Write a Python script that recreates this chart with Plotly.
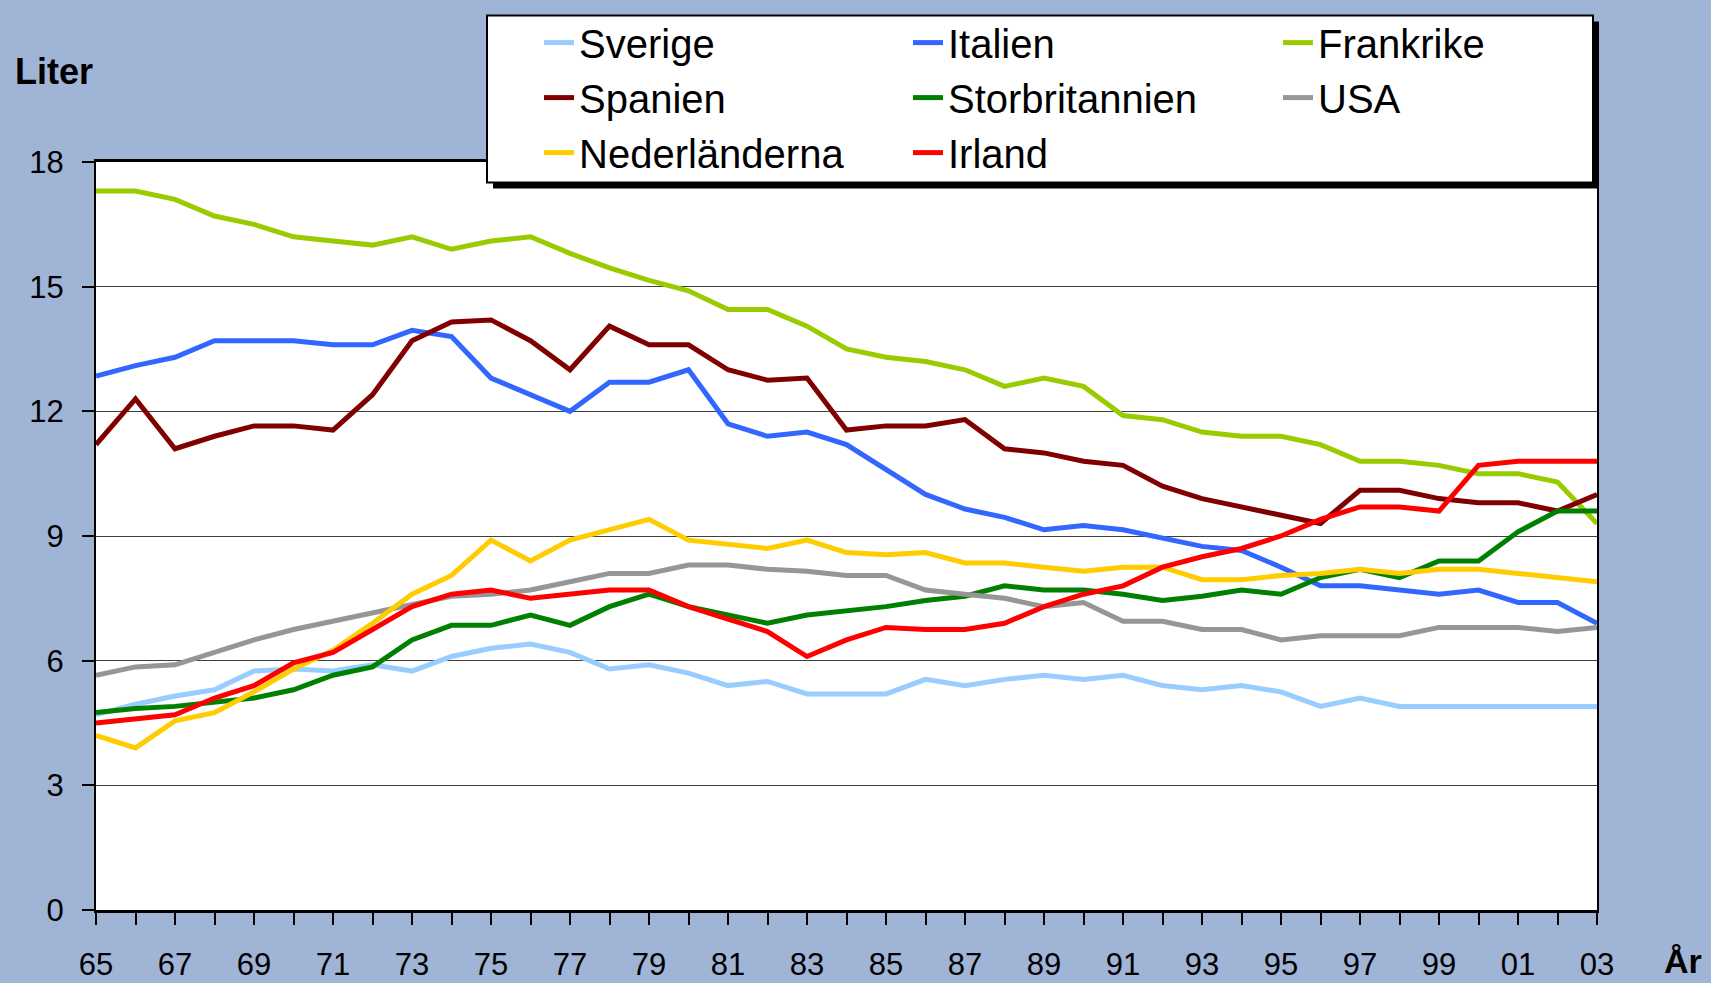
import plotly.graph_objects as go

# years 1965 - 2003, liters per person
years = list(range(1965, 2004))

sverige = [4.7, 4.95, 5.15, 5.3, 5.75, 5.8, 5.75, 5.9, 5.75, 6.1,
           6.3, 6.4, 6.2, 5.8, 5.9, 5.7, 5.4, 5.5, 5.2, 5.2,
           5.2, 5.55, 5.4, 5.55, 5.65, 5.55, 5.65, 5.4, 5.3, 5.4,
           5.25, 4.9, 5.1, 4.9, 4.9, 4.9, 4.9, 4.9, 4.9]
italien = [12.85, 13.1, 13.3, 13.7, 13.7, 13.7, 13.6, 13.6, 13.95, 13.8,
           12.8, 12.4, 12.0, 12.7, 12.7, 13.0, 11.7, 11.4, 11.5, 11.2,
           10.6, 10.0, 9.65, 9.45, 9.15, 9.25, 9.15, 8.95, 8.75, 8.65,
           8.25, 7.8, 7.8, 7.7, 7.6, 7.7, 7.4, 7.4, 6.9]
frankrike = [17.3, 17.3, 17.1, 16.7, 16.5, 16.2, 16.1, 16.0, 16.2, 15.9,
             16.1, 16.2, 15.8, 15.45, 15.15, 14.9, 14.45, 14.45, 14.05, 13.5,
             13.3, 13.2, 13.0, 12.6, 12.8, 12.6, 11.9, 11.8, 11.5, 11.4,
             11.4, 11.2, 10.8, 10.8, 10.7, 10.5, 10.5, 10.3, 9.3]
spanien = [11.2, 12.3, 11.1, 11.4, 11.65, 11.65, 11.55, 12.4, 13.7, 14.15,
           14.2, 13.7, 13.0, 14.05, 13.6, 13.6, 13.0, 12.75, 12.8, 11.55,
           11.65, 11.65, 11.8, 11.1, 11.0, 10.8, 10.7, 10.2, 9.9, 9.7,
           9.5, 9.3, 10.1, 10.1, 9.9, 9.8, 9.8, 9.6, 10.0]
storbritannien = [4.75, 4.85, 4.9, 5.0, 5.1, 5.3, 5.65, 5.85, 6.5, 6.85,
                  6.85, 7.1, 6.85, 7.3, 7.6, 7.3, 7.1, 6.9, 7.1, 7.2,
                  7.3, 7.45, 7.55, 7.8, 7.7, 7.7, 7.6, 7.45, 7.55, 7.7,
                  7.6, 8.0, 8.2, 8.0, 8.4, 8.4, 9.1, 9.6, 9.6]
usa = [5.65, 5.85, 5.9, 6.2, 6.5, 6.75, 6.95, 7.15, 7.35, 7.55,
       7.6, 7.7, 7.9, 8.1, 8.1, 8.3, 8.3, 8.2, 8.15, 8.05,
       8.05, 7.7, 7.6, 7.5, 7.3, 7.4, 6.95, 6.95, 6.75, 6.75,
       6.5, 6.6, 6.6, 6.6, 6.8, 6.8, 6.8, 6.7, 6.8]
nederlanderna = [4.2, 3.9, 4.55, 4.75, 5.25, 5.8, 6.25, 6.9, 7.6, 8.05,
                 8.9, 8.4, 8.9, 9.15, 9.4, 8.9, 8.8, 8.7, 8.9, 8.6,
                 8.55, 8.6, 8.35, 8.35, 8.25, 8.15, 8.25, 8.25, 7.95, 7.95,
                 8.05, 8.1, 8.2, 8.1, 8.2, 8.2, 8.1, 8.0, 7.9]
irland = [4.5, 4.6, 4.7, 5.1, 5.4, 5.95, 6.2, 6.75, 7.3, 7.6,
          7.7, 7.5, 7.6, 7.7, 7.7, 7.3, 7.0, 6.7, 6.1, 6.5,
          6.8, 6.75, 6.75, 6.9, 7.3, 7.6, 7.8, 8.25, 8.5, 8.7,
          9.0, 9.4, 9.7, 9.7, 9.6, 10.7, 10.8, 10.8, 10.8]

x_tick_years = years[::2]
x_tick_labels = ["65", "67", "69", "71", "73", "75", "77", "79", "81", "83",
                 "85", "87", "89", "91", "93", "95", "97", "99", "01", "03"]
y_ticks = [0, 3, 6, 9, 12, 15, 18]

# (name, values, colour, legend column)
series = [
    ("Sverige", sverige, "#99CCFF", "legend"),
    ("Italien", italien, "#3366FF", "legend2"),
    ("Frankrike", frankrike, "#99CC00", "legend3"),
    ("Spanien", spanien, "#800000", "legend"),
    ("Storbritannien", storbritannien, "#008000", "legend2"),
    ("USA", usa, "#969696", "legend3"),
    ("Nederländerna", nederlanderna, "#FFCC00", "legend"),
    ("Irland", irland, "#FF0000", "legend2"),
]

W, H = 1711, 983
L, R, T, B = 96, 1597, 161.5, 910
FONT = "Liberation Sans, Arial, sans-serif"


def px_x(px):
    return (px - L) / (R - L)


def px_y(py):
    return (B - py) / (B - T)


fig = go.Figure()
for name, vals, col, leg in series:
    fig.add_trace(go.Scatter(x=years, y=vals, name=name, mode="lines",
                             line=dict(color=col, width=5), legend=leg))

leg_style = dict(bgcolor="rgba(0,0,0,0)", borderwidth=0, orientation="v",
                 font=dict(family=FONT, size=40, color="black"),
                 xanchor="left", yanchor="top", y=px_y(9.5))

fig.update_layout(
    width=W, height=H,
    margin=dict(l=L, r=W - R, t=T, b=H - B, autoexpand=False),
    paper_bgcolor="#A0B4D6",
    plot_bgcolor="white",
    font=dict(family=FONT, size=31, color="black"),
    showlegend=True,
    legend=dict(leg_style, x=px_x(539)),
    legend2=dict(leg_style, x=px_x(908)),
    legend3=dict(leg_style, x=px_x(1278)),
    xaxis=dict(range=[1965, 2003], tickvals=x_tick_years, ticktext=x_tick_labels,
               ticks="outside", ticklen=12, tickwidth=1.5, tickcolor="black",
               minor=dict(tick0=1965, dtick=1, ticks="outside", ticklen=12,
                          tickwidth=1.5, tickcolor="black", showgrid=False),
               showline=True, linecolor="black", linewidth=2.5, mirror=True,
               showgrid=False, zeroline=False, ticklabelstandoff=13,
               tickfont=dict(size=31)),
    yaxis=dict(range=[0, 18], tickvals=y_ticks,
               ticks="outside", ticklen=12, tickwidth=1.5, tickcolor="black",
               showline=True, linecolor="black", linewidth=2, mirror=True,
               showgrid=True, gridcolor="#404040", gridwidth=1, zeroline=False,
               ticklabelstandoff=12, tickfont=dict(size=31)),
    shapes=[
        # legend frame with drop shadow
        dict(type="rect", xref="paper", yref="paper", layer="above",
             x0=px_x(493), x1=px_x(1599), y0=px_y(188), y1=px_y(21),
             fillcolor="black", line=dict(width=0)),
        dict(type="rect", xref="paper", yref="paper", layer="above",
             x0=px_x(487), x1=px_x(1593), y0=px_y(182), y1=px_y(15),
             fillcolor="white", line=dict(color="black", width=2)),
    ],
    annotations=[
        dict(text="<b>Liter</b>", xref="paper", yref="paper", x=px_x(54), y=px_y(71),
             xanchor="center", yanchor="middle", showarrow=False, font=dict(size=36)),
        dict(text="<b>År</b>", xref="paper", yref="paper", x=px_x(1683), y=px_y(982),
             xanchor="center", yanchor="bottom", showarrow=False, font=dict(size=34)),
    ],
)

fig.write_html("out.html", config={"displayModeBar": False},
               post_script="document.body.style.margin='0';")
